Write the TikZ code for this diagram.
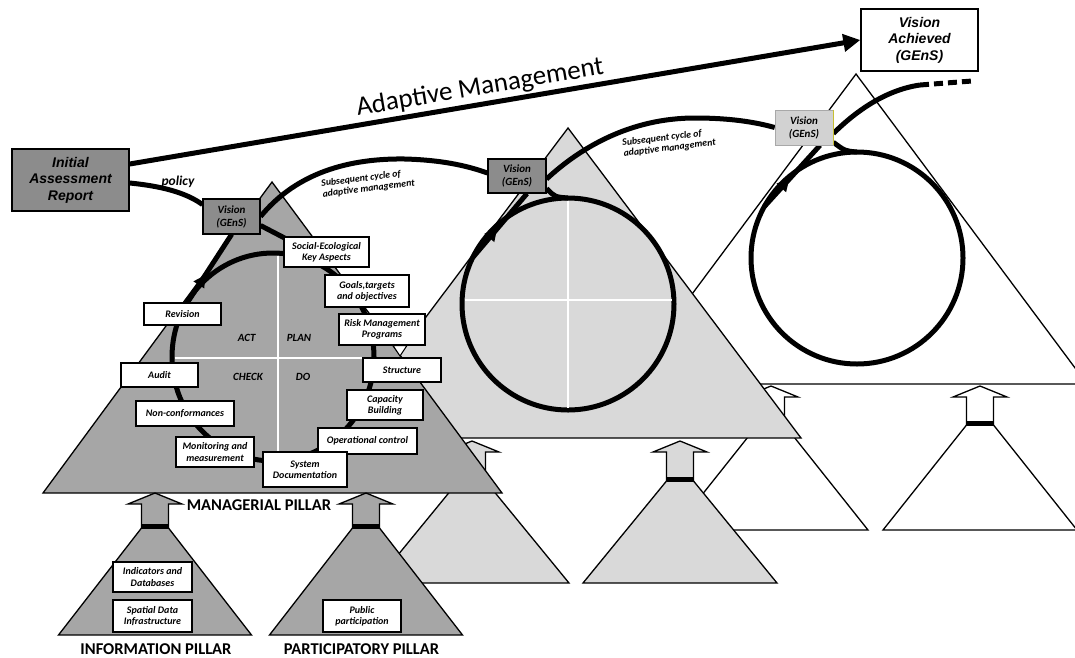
\documentclass[tikz,border=0pt]{standalone}
\usepackage{fontspec}
\setmainfont{Carlito}
\newfontfamily\arialf{Liberation Sans}
\usetikzlibrary{arrows.meta,shapes.geometric,decorations.markings,calc}
\definecolor{dkgray}{RGB}{166,166,166}
\definecolor{boxgray}{RGB}{140,140,140}
\definecolor{ltgray}{RGB}{217,217,217}
\definecolor{vlgray}{RGB}{210,210,210}
\pgfdeclarelayer{back}\pgfdeclarelayer{front}\pgfsetlayers{back,main,front}
\newcommand{\sbf}{\fontsize{10}{11.3}\selectfont\bfseries\itshape}
\newcommand{\qbf}{\fontsize{11}{13}\selectfont\bfseries\itshape}
\newcommand{\vbf}{\fontsize{11}{13}\selectfont\bfseries\itshape}
\newcommand{\bigf}{\arialf\fontsize{14}{16.5}\selectfont\bfseries\itshape}
\newcommand{\pilf}{\fontsize{16.5}{18}\selectfont\bfseries}
\newcommand{\subf}{\fontsize{9.8}{10.8}\selectfont\bfseries\itshape}
% #1 cx, #2 base y, #3 top y, #4 fill, #5 stem length, #6 base half width
\newcommand{\pillarshape}[6]{%
  \filldraw[triedge, fill=#4] (#1-#6,#2) -- (#1-13.5,#3) -- (#1+13.5,#3) -- (#1+#6,#2) -- cycle;
  \filldraw[triedge, fill=#4] (#1-13.5,#3) -- (#1-13.5,#3-#5) -- (#1-27,#3-#5) -- (#1,#3-#5-11)
     -- (#1+27,#3-#5) -- (#1+13.5,#3-#5) -- (#1+13.5,#3) -- cycle;
  \fill[black] (#1-13.5,#3-4.5) rectangle (#1+13.5,#3+0.5);
}
\begin{document}
\begin{tikzpicture}[x=1pt,y=-1pt,
  triedge/.style={draw=black,line width=1.3pt,line join=miter},
  sbox/.style={draw=black,fill=white,line width=1.1pt,inner sep=0pt,align=center,font=\sbf},
  vbox/.style={draw=black,line width=1.1pt,inner sep=0pt,align=center,font=\vbf,minimum width=58pt,minimum height=35pt},
  bigbox/.style={draw=black,line width=1.4pt,inner sep=0pt,align=center,font=\bigf,minimum width=117pt,minimum height=62pt},
  flowline/.style={line width=5pt,draw=black},
  crossline/.style={draw=white,line width=2pt},
  ringst/.style={draw=black,line width=5pt,inner sep=0pt,outer sep=0pt},
  entryline/.style={flowline, postaction={decorate},
     decoration={markings, mark=at position 0.45 with {\arrow{Triangle[length=12pt,width=12pt]}}}},
  quadlab/.style={font=\qbf},
  pillab/.style={font=\pilf},
  sublab/.style={font=\subf, align=left, rotate=7},
]
\useasboundingbox (0,0) rectangle (1075,657);

\begin{pgfonlayer}{back}
\begin{scope}
\clip (0,0) rectangle (1075,657);
% third stage
\filldraw[triedge, fill=white] (625,384) -- (856,74) -- (1087,384) -- cycle;
\pillarshape{980}{530}{425}{white}{28}{97}
\pillarshape{771}{530}{425}{white}{28}{97}
\node[ringst, circle, minimum size=212pt, fill=white] (c3) at (857,258) {};
% second stage
\filldraw[triedge, fill=ltgray] (335,438) -- (568,128) -- (801,438) -- cycle;
\pillarshape{680}{583}{481}{ltgray}{29}{97}
\pillarshape{472}{583}{481}{ltgray}{29}{97}
\node[ringst, circle, minimum size=212pt, fill=ltgray] (c2) at (568,304) {};
\draw[crossline] (568,200.5) -- (568,407.5);
\draw[crossline] (464.5,300) -- (671.5,300);
% first stage
\filldraw[triedge, fill=dkgray] (43,493) -- (272,182) -- (502,493) -- cycle;
\pillarshape{155}{635}{528}{dkgray}{24}{96.5}
\pillarshape{366}{635}{528}{dkgray}{24}{96.5}
\node[ringst, ellipse, minimum width=202pt, minimum height=208pt, fill=dkgray] (c1) at (273,357) {};
\draw[crossline] (278,255.5) -- (278,458);
\draw[crossline] (174.5,358) -- (371.5,358);
\end{scope}
\end{pgfonlayer}

\begin{pgfonlayer}{front}
\node[bigbox, fill=boxgray] (ia) at (70.5,180) {Initial\\Assessment\\Report};
\node[bigbox, fill=white] (va) at (919.5,40) {Vision\\Achieved\\(GEnS)};
\node[vbox, fill=boxgray, minimum width=57pt] (v1) at (231.5,216.5) {Vision\\(GEnS)};
\node[vbox, fill=boxgray, minimum height=34pt] (v2) at (517,176) {Vision\\(GEnS)};
\node[vbox, fill=vlgray, draw=vlgray!80!black, line width=0.6pt] (v3) at (804,127.5) {Vision\\(GEnS)};
\draw[yellow!75!black, line width=1.3pt] (v3.north east) -- (v3.south east);
\node[sbox, minimum width=85pt, minimum height=30pt] (seka) at (326.5,252) {Social-Ecological\\Key Aspects};
\node[sbox, minimum width=84pt, minimum height=32pt] (goals) at (367,291) {Goals,targets\\and objectives};
\node[sbox, minimum width=86pt, minimum height=31pt] (risk) at (382,329.5) {Risk Management\\Programs};
\filldraw[draw=black, fill=white, line width=1pt] (393,345.5) -- (407,345.5) -- (400,356) -- cycle;
\node[sbox, minimum width=78pt, minimum height=24pt] (struct) at (402,370) {Structure};
\node[sbox, minimum width=76pt, minimum height=30pt] (cap) at (385,405) {Capacity\\Building};
\node[sbox, minimum width=99pt, minimum height=26pt] (opc) at (367.5,441) {Operational control};
\node[sbox, minimum width=84pt, minimum height=35pt] (sysdoc) at (305,469.5) {System\\Documentation};
\node[sbox, minimum width=78pt, minimum height=30pt] (mon) at (215,452) {Monitoring and\\measurement};
\node[sbox, minimum width=98pt, minimum height=25pt] (ncf) at (185,413.5) {Non-conformances};
\node[sbox, minimum width=77pt, minimum height=24pt] (audit) at (159.5,375) {Audit};
\node[sbox, minimum width=77pt, minimum height=22pt] (rev) at (182.5,314) {Revision};
\node[sbox, minimum width=79pt, minimum height=30pt] (ind) at (152.5,577) {Indicators and\\Databases};
\node[sbox, minimum width=79pt, minimum height=32pt] (sdi) at (152.5,616) {Spatial Data\\Infrastructure};
\node[sbox, minimum width=78pt, minimum height=32pt] (pub) at (362,616) {Public\\participation};
\end{pgfonlayer}

% labels
\node[quadlab] (act) at (246.7,337.7) {ACT};
\node[quadlab] (plan) at (299,337.7) {PLAN};
\node[quadlab] (check) at (248,377) {CHECK};
\node[quadlab] (do) at (303,377) {DO};
\node[pillab] (mp) at (259,505) {MANAGERIAL PILLAR};
\node[pillab] (ip) at (156,649) {INFORMATION PILLAR};
\node[pillab] (pp) at (361.5,649) {PARTICIPATORY PILLAR};
\node[font=\fontsize{13.5}{15}\selectfont\bfseries\itshape] (pol) at (178,182) {policy};
\node[font=\fontsize{27}{30}\selectfont, rotate=9.6] (am) at (480,88) {Adaptive Management};
\node[sublab] (s1) at (368,183.5) {Subsequent cycle of\\adaptive management};
\node[sublab] (s2) at (669,143) {Subsequent cycle of\\adaptive management};

% connectors
\draw[flowline, -{Triangle[length=17pt,width=17pt]}] ([yshift=16pt]ia.east) -- (va.west);
\draw[flowline] ([yshift=-3pt]ia.east) .. controls (160,186) and (185,192) .. ([yshift=12pt]v1.west);
\draw[flowline] (v1.east) .. controls (292,178) and (340,158) .. (405,159)
   .. controls (440,160) and (465,165) .. ([yshift=3pt]v2.west);
\draw[flowline] ([yshift=-3pt]v2.east) .. controls (580,148) and (630,118) .. (695,118)
   .. controls (730,118) and (755,122) .. (v3.west);
\coordinate (cend) at (920,85);
\coordinate (cfree) at (972,81);
\draw[flowline] ([yshift=-6pt]v3.east) .. controls (855,112) and (885,90) .. (cend);
\draw[flowline, dash pattern=on 9pt off 5pt] (cend) -- (cfree);
\draw[entryline] (c1.151) -- (v1.south);
\draw[entryline] (c2.154) -- ([xshift=10pt]v2.south);
\draw[entryline] (c3.151) -- ([xshift=16pt]v3.south);
\draw[flowline] ([yshift=-9pt]v1.east) -- ([xshift=-15pt]seka.center);
\draw[flowline] ([yshift=5pt]v2.south east) .. controls (555,197) .. (c2.north);
\draw[flowline] ([yshift=3pt]v3.south east) .. controls (845,151) .. (c3.north);
\end{tikzpicture}
\end{document}
